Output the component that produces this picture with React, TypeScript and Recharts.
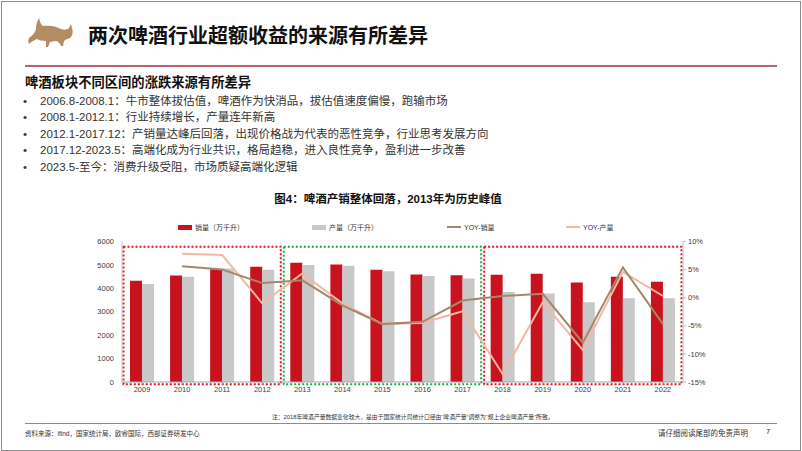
import { ComposedChart, Bar, Line, XAxis, YAxis, ReferenceArea } from 'recharts'

const years = ['2009', '2010', '2011', '2012', '2013', '2014', '2015', '2016', '2017', '2018', '2019', '2020', '2021', '2022']
const salesVol = [4320, 4550, 4820, 4920, 5090, 5020, 4790, 4590, 4560, 4575, 4620, 4250, 4490, 4280]
const prodVol = [4180, 4490, 4850, 4790, 5000, 4960, 4730, 4530, 4420, 3840, 3780, 3410, 3580, 3580]
const salesYoy = [null, 5.6, 5.0, 2.6, 3.1, -1.35, -4.7, -4.3, -0.5, 0.3, 0.7, -8.0, 5.4, -4.7]
const prodYoy = [null, 7.8, 7.6, -1.0, 4.3, -1.0, -4.7, -4.5, -2.4, -13.6, -0.8, -9.3, 4.6, 0.3]

const leftTicks = [0, 1000, 2000, 3000, 4000, 5000, 6000]
const rightTicks = [-15, -10, -5, 0, 5, 10]

const bullets = [
    ['2006.8-2008.1', '牛市整体拔估值，啤酒作为快消品，拔估值速度偏慢，跑输市场'],
    ['2008.1-2012.1', '行业持续增长，产量连年新高'],
    ['2012.1-2017.12', '产销量达峰后回落，出现价格战为代表的恶性竞争，行业思考发展方向'],
    ['2017.12-2023.5', '高端化成为行业共识，格局趋稳，进入良性竞争，盈利进一步改善'],
    ['2023.5-至今', '消费升级受阻，市场质疑高端化逻辑'],
]

const data = years.map((y, i) => ({
    year: y,
    sales: salesVol[i],
    prod: prodVol[i],
    salesYoy: salesYoy[i],
    prodYoy: prodYoy[i],
}))

const RED = '#c8121d'
const GRAY = '#c8c8c8'
const font = '"Liberation Sans", "Noto Sans CJK SC", sans-serif'

// dotted period boxes, inset a little so neighbours don't touch
const box = (color: string) => (p: any) => (
    <rect
        x={p.x + 1.5}
        y={p.y}
        width={p.width - 3}
        height={p.height}
        fill="none"
        stroke={color}
        strokeWidth={2}
        strokeDasharray="2 2"
    />
)

function Bull() {
    return (
        <svg width={802} height={60} style={{ position: 'absolute', left: 0, top: 0 }}>
            <path
                d="M29 38 C32 36 35 33 36 29 C36 25 37 21 39 18 C40 22 41 25 43 26 C49 25 56 26 61 29 C64 30 67 30 69 28 L71 24 L72 28 C73 31 73 34 71 37 C69 39 66 39 64 41 L63 46 L61 46 C60 43 58 41 55 41 L50 42 L48 47 L46 47 L46 41 C42 41 39 40 37 39 C34 40 31 42 29 44 C28 42 28 40 29 38 Z"
                fill="#b38c64"
            />
        </svg>
    )
}

function LegendItem({ left, kind, color, label }: { left: number; kind: 'bar' | 'line'; color: string; label: string }) {
    return (
        <div style={{ position: 'absolute', left, top: 222, display: 'flex', alignItems: 'center', fontSize: 7, color: '#333' }}>
            <span style={{ display: 'inline-block', width: 14, height: kind === 'bar' ? 5 : 2, background: color, marginRight: 3 }} />
            {label}
        </div>
    )
}

export default function App() {
    return (
        <div style={{ position: 'relative', width: 802, height: 451, background: '#fff', fontFamily: font, overflow: 'hidden' }}>
            <style>{`body{margin:0}`}</style>
            <div style={{ position: 'absolute', left: 1, top: 1, width: 798, height: 448, border: '1px solid #8c8c8c' }} />
            <Bull />
            <div style={{ position: 'absolute', left: 88, top: 20, fontSize: 20, fontWeight: 700, color: '#111' }}>
                两次啤酒行业超额收益的来源有所差异
            </div>
            <div style={{ position: 'absolute', left: 25, top: 64.5, width: 752, height: 2.5, background: '#b8646e' }} />

            <div style={{ position: 'absolute', left: 25, top: 72, fontSize: 13.3, fontWeight: 700, color: '#111' }}>
                啤酒板块不同区间的涨跌来源有所差异
            </div>
            {bullets.map((b, i) => (
                <div key={i} style={{ position: 'absolute', left: 23, top: 91.5 + i * 16.6, fontSize: 11.5, color: '#333', whiteSpace: 'nowrap' }}>
                    <span style={{ display: 'inline-block', width: 17 }}>•</span>
                    {b[0]}：{b[1]}
                </div>
            ))}

            <div style={{ position: 'absolute', left: 0, width: 776, top: 190, textAlign: 'center', fontSize: 11.5, fontWeight: 700, color: '#111' }}>
                图4：啤酒产销整体回落，2013年为历史峰值
            </div>
            <LegendItem left={178} kind="bar" color={RED} label="销量（万千升）" />
            <LegendItem left={312} kind="bar" color={GRAY} label="产量（万千升）" />
            <LegendItem left={447} kind="line" color="#a5876a" label="YOY-销量" />
            <LegendItem left={566} kind="line" color="#f2b8a4" label="YOY-产量" />

            <div style={{ position: 'absolute', left: 0, top: 0 }}>
                <ComposedChart
                    width={802}
                    height={420}
                    data={data}
                    margin={{ top: 241.5, right: 79, bottom: 18, left: 0 }}
                    barSize={12}
                    barGap={0}
                >
                    <XAxis
                        dataKey="year"
                        tick={{ fontSize: 7.5, fill: '#404040', fontFamily: font }}
                        stroke="#a6a6a6"
                        tickSize={3}
                        height={20}
                    />
                    <YAxis
                        yAxisId="left"
                        domain={[0, 6000]}
                        ticks={leftTicks}
                        width={122}
                        tick={{ fontSize: 7.5, fill: '#404040', fontFamily: font }}
                        stroke="#bfbfbf"
                        tickLine={false}
                    />
                    <YAxis
                        yAxisId="right"
                        orientation="right"
                        domain={[-15, 10]}
                        ticks={rightTicks}
                        width={40}
                        tickFormatter={(v: number) => `${v}%`}
                        tick={{ fontSize: 7.5, fill: '#404040', fontFamily: font }}
                        stroke="#bfbfbf"
                        tickSize={3}
                    />
                    <Bar yAxisId="left" dataKey="sales" fill={RED} isAnimationActive={false} />
                    <Bar yAxisId="left" dataKey="prod" fill={GRAY} isAnimationActive={false} />
                    <Line yAxisId="right" dataKey="prodYoy" stroke="#f2b8a4" strokeWidth={2} dot={false} isAnimationActive={false} />
                    <Line yAxisId="right" dataKey="salesYoy" stroke="#a5876a" strokeWidth={2} dot={false} isAnimationActive={false} />
                    <ReferenceArea yAxisId="left" x1="2009" x2="2012" y1={-100} y2={5780} ifOverflow="visible" shape={box('#e3131e')} />
                    <ReferenceArea yAxisId="left" x1="2013" x2="2017" y1={-100} y2={5780} ifOverflow="visible" shape={box('#22a84a')} />
                    <ReferenceArea yAxisId="left" x1="2018" x2="2022" y1={-100} y2={5780} ifOverflow="visible" shape={box('#e3131e')} />
                </ComposedChart>
            </div>

            <div style={{ position: 'absolute', left: 272, top: 411.5, fontSize: 5.8, color: '#333', whiteSpace: 'nowrap' }}>
                注：2018年啤酒产量数据变化较大，是由于国家统计局统计口径由“啤酒产量”调整为“规上企业啤酒产量”所致。
            </div>
            <div style={{ position: 'absolute', left: 25, top: 423, width: 752, height: 1, background: '#8c8c8c' }} />
            <div style={{ position: 'absolute', left: 25, top: 428, fontSize: 6.5, color: '#333', whiteSpace: 'nowrap' }}>
                资料来源：ifind，国家统计局，欧睿国际，西部证券研发中心
            </div>
            <div style={{ position: 'absolute', left: 658, top: 427, fontSize: 7.5, color: '#333', whiteSpace: 'nowrap' }}>
                请仔细阅读尾部的免责声明
            </div>
            <div style={{ position: 'absolute', left: 766, top: 427, fontSize: 7.5, color: '#333' }}>7</div>
        </div>
    )
}
